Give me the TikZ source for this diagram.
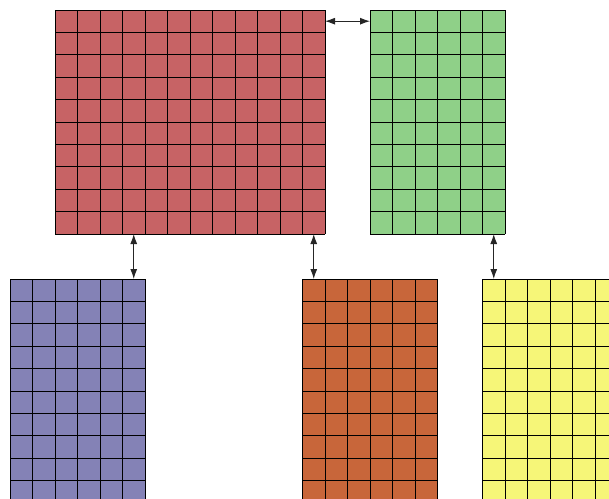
\documentclass[tikz,border=0pt]{standalone}
\usetikzlibrary{arrows.meta}
\definecolor{cred}{RGB}{199,99,101}
\definecolor{cgreen}{RGB}{143,208,136}
\definecolor{cblue}{RGB}{132,130,182}
\definecolor{corange}{RGB}{200,102,58}
\definecolor{cyellow}{RGB}{246,246,120}
\tikzset{
  gridline/.style={draw=black,line width=0.9pt},
  link/.style={{Latex[length=10pt,width=7pt]}-{Latex[length=10pt,width=7pt]},line width=1pt,draw=black!85}
}
\newcommand{\mygrid}[6]{% name, x, y(top), cols, rows, color
  \fill[#6] (#2,-#3) rectangle ++(#4*22.5,-#5*22.4);
  \foreach \i in {0,...,#4} \draw[gridline] (#2+\i*22.5,-#3) -- ++(0,-#5*22.4);
  \foreach \j in {0,...,#5} \draw[gridline] (#2,-#3-\j*22.4) -- ++(#4*22.5,0);
  \coordinate (#1) at (#2,-#3);
}
\begin{document}
\begin{tikzpicture}[x=1pt,y=1pt]
\useasboundingbox (0,0) rectangle (609,-498);
\clip (0,0) rectangle (609,-498);
\mygrid{red}{55}{10}{12}{10}{cred}
\mygrid{green}{370}{10}{6}{10}{cgreen}
\mygrid{blue}{10}{279}{6}{10}{cblue}
\mygrid{orange}{302.5}{279}{6}{10}{corange}
\mygrid{yellow}{482.5}{279}{6}{10}{cyellow}
\coordinate (a1) at ([shift={(270,-11.2)}]red);
\coordinate (a2) at ([shift={(0,-11.2)}]green);
\coordinate (b1) at ([shift={(78.75,-224)}]red);
\coordinate (b2) at ([shift={(123.75,0)}]blue);
\coordinate (c1) at ([shift={(258.75,-224)}]red);
\coordinate (c2) at ([shift={(11.25,0)}]orange);
\coordinate (d1) at ([shift={(123.75,-224)}]green);
\coordinate (d2) at ([shift={(11.25,0)}]yellow);
\draw[link] (a1) -- (a2);
\draw[link] (b1) -- (b2);
\draw[link] (c1) -- (c2);
\draw[link] (d1) -- (d2);
\end{tikzpicture}
\end{document}
